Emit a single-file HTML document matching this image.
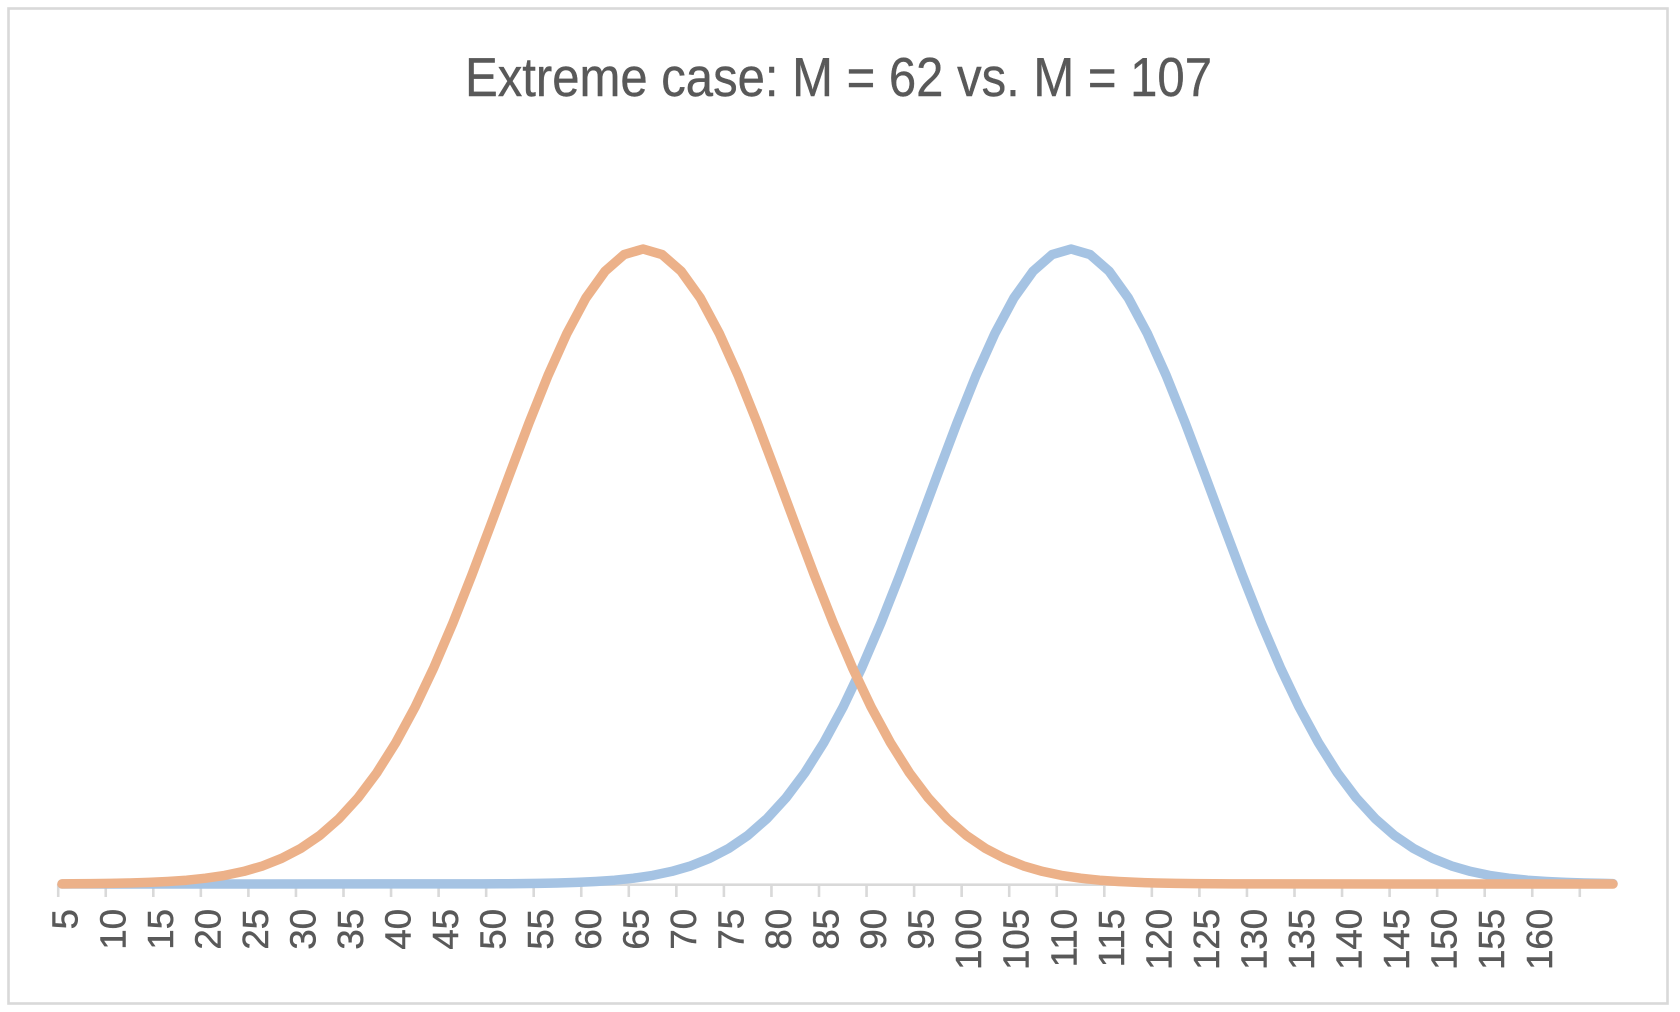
<!DOCTYPE html>
<html>
<head>
<meta charset="utf-8">
<style>
  html, body { margin: 0; padding: 0; background: #ffffff; }
  body { width: 1680px; height: 1012px; overflow: hidden; }
  svg { display: block; }
  text { font-family: "Liberation Sans", "DejaVu Sans", sans-serif; fill: #595959; }
</style>
</head>
<body>
<svg width="1680" height="1012" viewBox="0 0 1680 1012" xmlns="http://www.w3.org/2000/svg">
  <rect x="0" y="0" width="1680" height="1012" fill="#ffffff"/>
  <rect x="8.5" y="8.5" width="1659" height="995" fill="none" stroke="#d9d9d9" stroke-width="2.6"/>

  <text x="838.5" y="96" font-size="55" text-anchor="middle" textLength="747" lengthAdjust="spacingAndGlyphs" stroke="#595959" stroke-width="0.4">Extreme case: M = 62 vs. M = 107</text>

  <!-- axis line -->
  <line x1="58" y1="884.7" x2="1617" y2="884.7" stroke="#d9d9d9" stroke-width="2.6"/>
  <!-- ticks -->
  <g stroke="#d9d9d9" stroke-width="2.6">
    <line x1="58.2" y1="884" x2="58.2" y2="897"/>
    <line x1="105.75" y1="884" x2="105.75" y2="897"/>
    <line x1="153.3" y1="884" x2="153.3" y2="897"/>
    <line x1="200.85" y1="884" x2="200.85" y2="897"/>
    <line x1="248.4" y1="884" x2="248.4" y2="897"/>
    <line x1="295.95" y1="884" x2="295.95" y2="897"/>
    <line x1="343.5" y1="884" x2="343.5" y2="897"/>
    <line x1="391.05" y1="884" x2="391.05" y2="897"/>
    <line x1="438.6" y1="884" x2="438.6" y2="897"/>
    <line x1="486.15" y1="884" x2="486.15" y2="897"/>
    <line x1="533.7" y1="884" x2="533.7" y2="897"/>
    <line x1="581.25" y1="884" x2="581.25" y2="897"/>
    <line x1="628.8" y1="884" x2="628.8" y2="897"/>
    <line x1="676.35" y1="884" x2="676.35" y2="897"/>
    <line x1="723.9" y1="884" x2="723.9" y2="897"/>
    <line x1="771.45" y1="884" x2="771.45" y2="897"/>
    <line x1="819" y1="884" x2="819" y2="897"/>
    <line x1="866.55" y1="884" x2="866.55" y2="897"/>
    <line x1="914.1" y1="884" x2="914.1" y2="897"/>
    <line x1="961.65" y1="884" x2="961.65" y2="897"/>
    <line x1="1009.2" y1="884" x2="1009.2" y2="897"/>
    <line x1="1056.75" y1="884" x2="1056.75" y2="897"/>
    <line x1="1104.3" y1="884" x2="1104.3" y2="897"/>
    <line x1="1151.85" y1="884" x2="1151.85" y2="897"/>
    <line x1="1199.4" y1="884" x2="1199.4" y2="897"/>
    <line x1="1246.95" y1="884" x2="1246.95" y2="897"/>
    <line x1="1294.5" y1="884" x2="1294.5" y2="897"/>
    <line x1="1342.05" y1="884" x2="1342.05" y2="897"/>
    <line x1="1389.6" y1="884" x2="1389.6" y2="897"/>
    <line x1="1437.15" y1="884" x2="1437.15" y2="897"/>
    <line x1="1484.7" y1="884" x2="1484.7" y2="897"/>
    <line x1="1532.25" y1="884" x2="1532.25" y2="897"/>
    <line x1="1579.8" y1="884" x2="1579.8" y2="897"/>
  </g>

  <!-- tick labels -->
  <g font-size="36.5" text-anchor="end" stroke="#595959" stroke-width="0.5">
    <text transform="translate(77.7,909) rotate(-90)">5</text>
    <text transform="translate(125.25,909) rotate(-90)">10</text>
    <text transform="translate(172.8,909) rotate(-90)">15</text>
    <text transform="translate(220.35,909) rotate(-90)">20</text>
    <text transform="translate(267.9,909) rotate(-90)">25</text>
    <text transform="translate(315.45,909) rotate(-90)">30</text>
    <text transform="translate(363,909) rotate(-90)">35</text>
    <text transform="translate(410.55,909) rotate(-90)">40</text>
    <text transform="translate(458.1,909) rotate(-90)">45</text>
    <text transform="translate(505.65,909) rotate(-90)">50</text>
    <text transform="translate(553.2,909) rotate(-90)">55</text>
    <text transform="translate(600.75,909) rotate(-90)">60</text>
    <text transform="translate(648.3,909) rotate(-90)">65</text>
    <text transform="translate(695.85,909) rotate(-90)">70</text>
    <text transform="translate(743.4,909) rotate(-90)">75</text>
    <text transform="translate(790.95,909) rotate(-90)">80</text>
    <text transform="translate(838.5,909) rotate(-90)">85</text>
    <text transform="translate(886.05,909) rotate(-90)">90</text>
    <text transform="translate(933.6,909) rotate(-90)">95</text>
    <text transform="translate(981.15,909) rotate(-90)">100</text>
    <text transform="translate(1028.7,909) rotate(-90)">105</text>
    <text transform="translate(1076.25,909) rotate(-90)">110</text>
    <text transform="translate(1123.8,909) rotate(-90)">115</text>
    <text transform="translate(1171.35,909) rotate(-90)">120</text>
    <text transform="translate(1218.9,909) rotate(-90)">125</text>
    <text transform="translate(1266.45,909) rotate(-90)">130</text>
    <text transform="translate(1314,909) rotate(-90)">135</text>
    <text transform="translate(1361.55,909) rotate(-90)">140</text>
    <text transform="translate(1409.1,909) rotate(-90)">145</text>
    <text transform="translate(1456.65,909) rotate(-90)">150</text>
    <text transform="translate(1504.2,909) rotate(-90)">155</text>
    <text transform="translate(1551.75,909) rotate(-90)">160</text>
  </g>

  <!-- blue series (M = 107) -->
  <polyline fill="none" stroke="#a5c3e3" stroke-width="9.5" stroke-linejoin="round" stroke-linecap="round"
    points="62,884 481.5,883.9 500.5,883.8 519.5,883.6 538.5,883.4 557.6,883.0 576.6,882.4 595.6,881.5 614.6,880.2 633.6,878.2 652.7,875.4 671.7,871.4 690.7,865.9 709.7,858.3 728.7,848.4 747.8,835.4 766.8,818.8 785.8,798.1 804.8,772.8 823.8,742.6 842.9,707.4 861.9,667.4 880.9,623.0 899.9,574.9 918.9,524.5 938.0,473.2 957.0,422.9 976.0,375.5 995.0,333.2 1014.0,297.8 1033.1,271.2 1052.1,254.6 1071.1,249.0 1090.1,254.6 1109.1,271.2 1128.2,297.8 1147.2,333.2 1166.2,375.5 1185.2,422.9 1204.2,473.2 1223.3,524.5 1242.3,574.9 1261.3,623.0 1280.3,667.4 1299.3,707.4 1318.4,742.6 1337.4,772.8 1356.4,798.1 1375.4,818.8 1394.4,835.4 1413.5,848.4 1432.5,858.3 1451.5,865.9 1470.5,871.4 1489.5,875.4 1508.6,878.2 1527.6,880.2 1546.6,881.5 1565.6,882.4 1584.6,883.0 1603.7,883.4 1613,883.6"/>

  <!-- orange series (M = 62) -->
  <polyline fill="none" stroke="#ecb189" stroke-width="9.5" stroke-linejoin="round" stroke-linecap="round"
    points="62,883.9 72.5,883.8 91.5,883.6 110.5,883.4 129.6,883.0 148.6,882.4 167.6,881.5 186.6,880.2 205.6,878.2 224.7,875.4 243.7,871.4 262.7,865.9 281.7,858.3 300.7,848.4 319.8,835.4 338.8,818.8 357.8,798.1 376.8,772.8 395.8,742.6 414.9,707.4 433.9,667.4 452.9,623.0 471.9,574.9 490.9,524.5 510.0,473.2 529.0,422.9 548.0,375.5 567.0,333.2 586.0,297.8 605.1,271.2 624.1,254.6 643.1,249.0 662.1,254.6 681.1,271.2 700.2,297.8 719.2,333.2 738.2,375.5 757.2,422.9 776.2,473.2 795.3,524.5 814.3,574.9 833.3,623.0 852.3,667.4 871.3,707.4 890.4,742.6 909.4,772.8 928.4,798.1 947.4,818.8 966.4,835.4 985.5,848.4 1004.5,858.3 1023.5,865.9 1042.5,871.4 1061.5,875.4 1080.6,878.2 1099.6,880.2 1118.6,881.5 1137.6,882.4 1156.6,883.0 1175.7,883.4 1194.7,883.6 1213.7,883.8 1232.7,883.9 1613,884"/>
</svg>
</body>
</html>
